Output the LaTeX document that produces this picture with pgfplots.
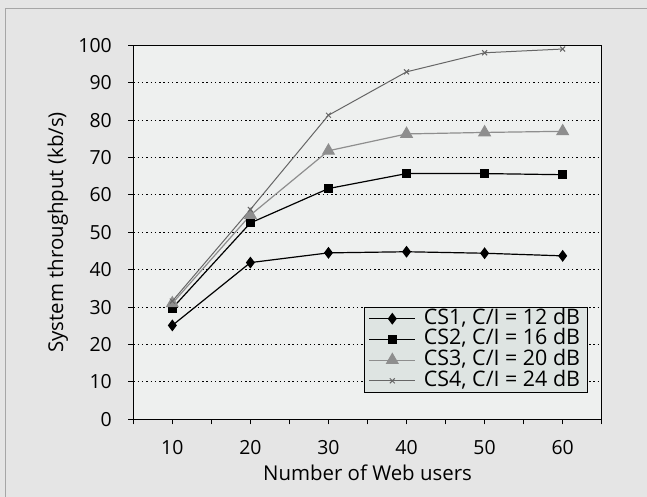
\documentclass[border=0pt]{standalone}
\usepackage{pgfplots}
\pgfplotsset{compat=1.18}
\usepackage{fontspec}
\setmainfont{Open Sans}
\definecolor{outerbg}{HTML}{E5E5E5}
\definecolor{plotbg}{HTML}{EEF0EF}
\definecolor{legbg}{HTML}{DEE4E2}
\definecolor{cs3}{HTML}{8E8E8E}
\definecolor{cs4}{HTML}{666666}
\newcommand{\bigf}{\fontsize{19.5}{23}\selectfont}
\newcommand{\labf}{\fontsize{20.5}{24}\selectfont}
\newcommand{\legf}{\fontsize{21.5}{25}\selectfont}
\begin{document}
\begin{tikzpicture}
\useasboundingbox (0bp,0bp) rectangle (647bp,497bp);
\fill[outerbg] (0bp,0bp) rectangle (647bp,497bp);
\draw[gray!70,line width=1bp] (5.5bp,-5bp) -- (5.5bp,488bp) -- (660bp,488bp);
\begin{axis}[
  at={(133.3bp,77.7bp)}, anchor=south west,
  scale only axis, width=468.4bp, height=374bp,
  xmin=5, xmax=65, ymin=0, ymax=100,
  xtick={5,10,...,65},
  xticklabels={,10,,20,,30,,40,,50,,60,},
  ytick={0,10,...,100},
  tick align=outside, tick pos=left,
  major tick length=5bp,
  tick style={black, line width=1bp},
  axis line style={black, line width=1.2bp},
  axis background/.style={fill=plotbg},
  ymajorgrids=true,
  grid style={black, line width=1bp, dash pattern=on 1.4bp off 2.9bp},
  /pgf/number format/assume math mode=true,
  every tick label/.append style={font=\bigf},
  yticklabel style={xshift=-13bp},
  xticklabel style={yshift=-13bp},
  xlabel={Number of Web users},
  ylabel={System throughput (kb/s)},
  every axis x label/.style={at={(axis description cs:0.5,-0.142)}, anchor=center, font=\labf},
  every axis y label/.style={at={(axis description cs:-0.161,0.5)}, rotate=90, anchor=center, font=\labf},
  legend style={at={(0.493,0.301)}, anchor=north west, fill=legbg, draw=black, line width=1bp,
    row sep=0.7bp, column sep=5bp, inner xsep=4bp, inner ysep=1.5bp,
    nodes={inner ysep=0bp, inner xsep=3bp, text height=15.5bp, text depth=4.5bp}},
  legend cell align=left,
  legend image code/.code={%
    \draw[mark repeat=2,mark phase=2] plot coordinates {(0bp,0bp) (23bp,0bp) (46bp,0bp)};},
  clip=false,
]
\addplot[black, line width=1.2bp, mark=diamond*, mark size=5bp, mark options={solid,fill=black}]
  coordinates {(10,25.1) (20,41.9) (30,44.5) (40,44.8) (50,44.4) (60,43.7)};
\addlegendentry{\legf CS1, C/I = 12 dB}
\addplot[black, line width=1.2bp, mark=square*, mark size=3.8bp, mark options={solid,fill=black}]
  coordinates {(10,29.7) (20,52.5) (30,61.7) (40,65.7) (50,65.7) (60,65.4)};
\addlegendentry{\legf CS2, C/I = 16 dB}
\addplot[cs3, line width=1.2bp, mark=triangle*, mark size=6.5bp, mark options={solid,fill=cs3}]
  coordinates {(10,31.0) (20,54.6) (30,71.8) (40,76.3) (50,76.7) (60,77.0)};
\addlegendentry{\legf CS3, C/I = 20 dB}
\addplot[cs4, line width=1bp, mark=x, mark size=3.5bp, mark options={solid}]
  coordinates {(10,31.6) (20,56.1) (30,81.3) (40,92.9) (50,98.0) (60,99.0)};
\addlegendentry{\legf CS4, C/I = 24 dB}
\end{axis}
\end{tikzpicture}
\end{document}
